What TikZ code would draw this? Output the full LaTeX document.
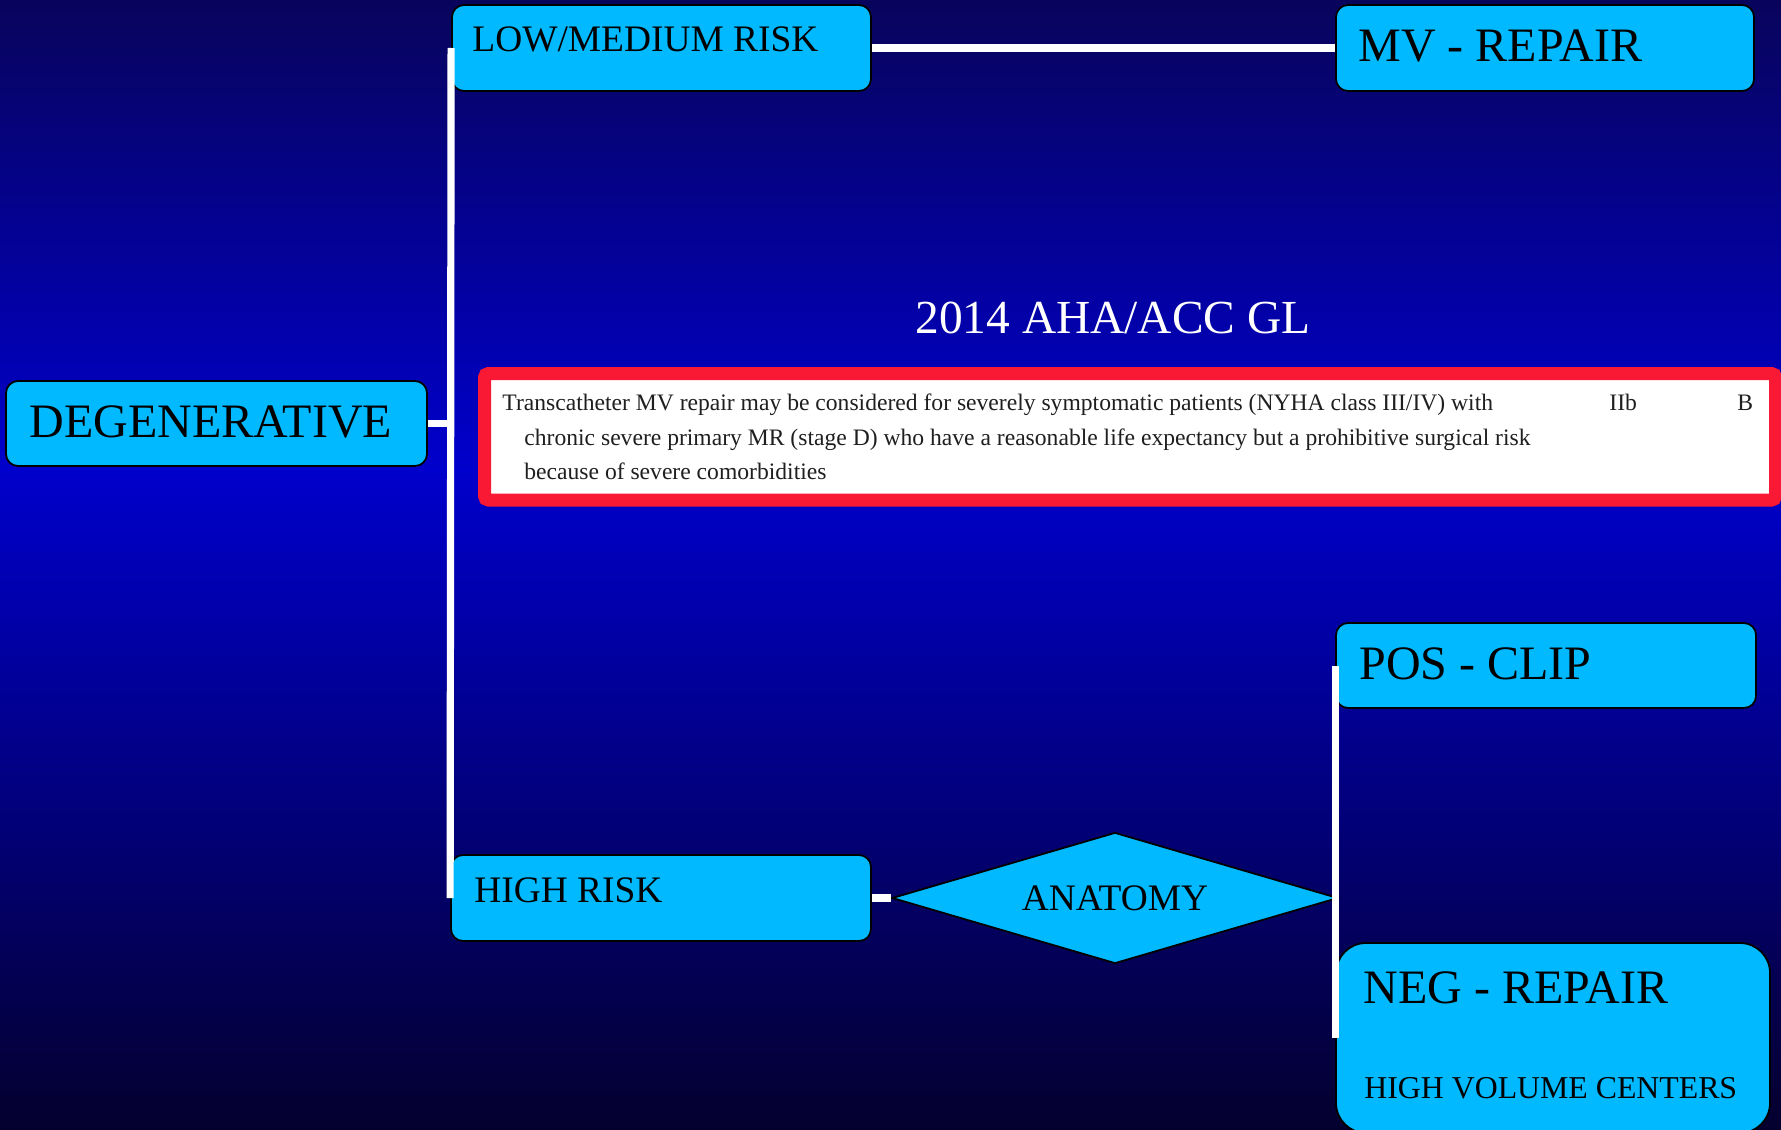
\documentclass[tikz,border=0pt]{standalone}
\usepackage{fontspec}
\setmainfont{Liberation Serif}
\usetikzlibrary{shapes.geometric}
\definecolor{boxcyan}{RGB}{0,185,255}
\definecolor{bgtop}{RGB}{8,4,92}
\definecolor{bgmid}{RGB}{0,0,204}
\definecolor{bgbot}{RGB}{4,0,46}
\definecolor{redframe}{RGB}{250,25,52}
\begin{document}
\begin{tikzpicture}[x=0.5pt,y=-0.5pt,
  box/.style={draw=black, line width=0.9pt, fill=boxcyan, rounded corners=6pt, inner sep=0pt},
  lbl/.style={anchor=base west, inner sep=0pt, text=black},
  big/.style={font=\fontsize{24}{28}\selectfont},
  mid/.style={font=\fontsize{18.7}{22}\selectfont},
  small/.style={font=\fontsize{15.9}{18}\selectfont},
  gltext/.style={anchor=base west, inner sep=0pt, text=black!88, font=\fontsize{11.8}{14}\selectfont},
  wire/.style={draw=white, line width=3.6pt},
]
\useasboundingbox (0,0) rectangle (1781,1129);
\shade[top color=bgtop, bottom color=bgmid] (0,0) rectangle (1781,470);
\shade[top color=bgmid, bottom color=bgbot] (0,469) rectangle (1781,1129);

% boxes
\node[box, minimum width=210.5pt, minimum height=42.5pt] (deg) at (216.5,423.5) {};
\node[box, minimum width=209.5pt, minimum height=43pt] (low) at (661.5,48) {};
\node[box, minimum width=210pt, minimum height=43pt] (high) at (661,898) {};
\node[box, minimum width=209pt, minimum height=43pt] (mv) at (1545,48) {};
\node[box, minimum width=210pt, minimum height=42.5pt] (pos) at (1546,665.5) {};
\node[box, rounded corners=15pt, minimum width=217pt, minimum height=95pt] (neg) at (1553,1038) {};
\node[draw=black, line width=0.9pt, fill=boxcyan, shape=diamond, shape aspect=3.4, minimum width=223pt, minimum height=65.5pt, inner sep=0pt, font=\fontsize{18.7}{22}\selectfont] (anat) at (1115,898) {ANATOMY};

% guideline frame
\node[draw=redframe, line width=6.5pt, fill=white, rounded corners=2pt, minimum width=645.5pt, minimum height=63.25pt, inner sep=0pt] (gl) at (1130,436.75) {};

% labels
\node[lbl, big] (degt) at (29,437) {DEGENERATIVE};
\node[lbl, mid] (lowt) at (472,52) {LOW/MEDIUM RISK};
\node[lbl, mid] (hight) at (474,902) {HIGH RISK};
\node[lbl, big] (mvt) at (1358,62) {MV - REPAIR};
\node[lbl, big] (post) at (1359,679) {POS - CLIP};
\node[lbl, big] (negt) at (1363,1003) {NEG - REPAIR};
\node[lbl, small] (hvc) at (1364,1098) {HIGH VOLUME CENTERS};
\node[anchor=base west, inner sep=0pt, text=white, font=\fontsize{23.7}{28}\selectfont] (title) at (915,333) {2014 AHA/ACC GL};

\node[gltext] (g1) at (502,410) {Transcatheter MV repair may be considered for severely symptomatic patients (NYHA class III/IV) with};
\node[gltext] (g2) at (524,445) {chronic severe primary MR (stage D) who have a reasonable life expectancy but a prohibitive surgical risk};
\node[gltext] (g3) at (524,479) {because of severe comorbidities};
\node[gltext] (cls) at (1609,410) {IIb};
\node[gltext] (lev) at (1737,410) {B};

% connectors
\draw[wire] (deg.east) -- (deg.east -| low.west);
\draw[wire] (low.west) -- (high.west);
\draw[wire] (low.east) -- (mv.west);
\draw[wire] (high.east) -- (anat.west);
\draw[wire] (pos.west) -- (neg.west);
\end{tikzpicture}
\end{document}
